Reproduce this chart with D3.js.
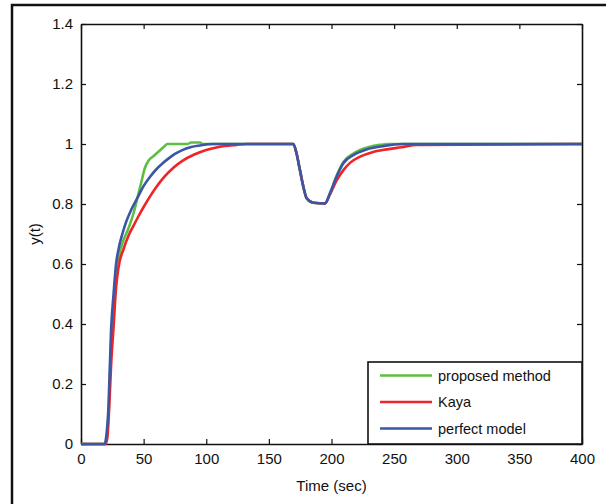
<!DOCTYPE html>
<html>
<head>
<meta charset="utf-8">
<script src="https://cdn.jsdelivr.net/npm/d3@7"></script>
<style>
body { margin: 0; background: #fff; }
text { font-family: "Liberation Sans", Arial, sans-serif; fill: #111; }
</style>
</head>
<body>
<div id="chart"></div>
<script>
var w = 606,
    h = 504;

// series (time in sec, response y(t))
var proposedT = [0, 19, 20, 22, 24, 26, 28, 30, 34, 38, 42, 45, 48, 51, 54, 58, 62, 66, 69, 85, 88, 95, 97,
    169.5, 172, 174.8, 177.5, 180.2, 185.5, 194.8, 198.8, 204, 209.5, 217.5, 222.8, 230, 238.7, 245, 400];
var proposedY = [0, 0, 0.01, 0.1, 0.33, 0.46, 0.56, 0.62, 0.68, 0.72, 0.77, 0.82, 0.87, 0.92, 0.945, 0.96, 0.975, 0.99, 1.0, 1.0, 1.005, 1.005, 1.0,
    1.0, 0.97, 0.913, 0.858, 0.819, 0.804, 0.802, 0.836, 0.893, 0.94, 0.968, 0.98, 0.99, 0.997, 1.0, 1.0];

var kayaT = [0, 19.5, 21, 22.5, 24, 26, 28, 30, 34, 38, 42, 46, 50, 54, 60, 67, 74, 81, 90, 100, 110, 124, 132,
    169.5, 172, 174.8, 177.5, 180.2, 185.5, 194.8, 198.8, 204, 209.5, 215, 222.8, 232, 244, 256, 268, 400];
var kayaY = [0, 0, 0.02, 0.12, 0.26, 0.39, 0.52, 0.59, 0.65, 0.695, 0.728, 0.76, 0.79, 0.818, 0.856, 0.893, 0.922, 0.944, 0.964, 0.98, 0.99, 0.997, 1.0,
    1.0, 0.97, 0.913, 0.858, 0.819, 0.804, 0.802, 0.832, 0.878, 0.913, 0.938, 0.958, 0.972, 0.982, 0.989, 0.997, 1.0];

var perfectT = [0, 19, 20, 22, 24, 26, 28, 30, 33, 36, 40, 45, 50, 55, 60, 65, 70, 75, 80, 88, 95, 105,
    169.5, 172, 174.8, 177.5, 180.2, 185.5, 194.8, 198.8, 204, 209.5, 217.5, 228, 241, 257, 400];
var perfectY = [0, 0, 0.02, 0.13, 0.38, 0.5, 0.6, 0.65, 0.7, 0.74, 0.78, 0.82, 0.86, 0.89, 0.915, 0.935, 0.952, 0.967, 0.978, 0.99, 0.995, 1.0,
    1.0, 0.97, 0.913, 0.858, 0.819, 0.804, 0.802, 0.836, 0.891, 0.936, 0.963, 0.982, 0.993, 1.0, 1.0];

var seriesNames = ["proposed method", "Kaya", "perfect model"];
var seriesColors = ["#5cbf42", "#ee2428", "#3a56a5"];
var xTicks = [0, 50, 100, 150, 200, 250, 300, 350, 400];
var yTicks = [0, 0.2, 0.4, 0.6, 0.8, 1, 1.2, 1.4];

// plot box (note: "top" is taken by window.top, so use other names)
var pL = 81, pR = 582, pT = 24, pB = 444;

var svg = d3.select("#chart")
    .append("svg")
    .attr("width", w)
    .attr("height", h);

// outer frame of the figure
svg.append("rect")
    .attr("x", 12).attr("y", 5)
    .attr("width", 600).attr("height", 520)
    .attr("fill", "none")
    .attr("stroke", "#111")
    .attr("stroke-width", 2.5);

var x = d3.scaleLinear().domain([0, 400]).range([pL, pR]);
var y = d3.scaleLinear().domain([0, 1.4]).range([pB, pT]);

var fmt = function(d) { return String(d); };

// axes, matlab style: ticks inside on all four sides
svg.append("g")
    .attr("transform", "translate(0," + pB + ")")
    .call(d3.axisBottom(x).tickValues(xTicks).tickFormat(fmt).tickSizeInner(-5).tickSizeOuter(0).tickPadding(9));
svg.append("g")
    .attr("transform", "translate(0," + pT + ")")
    .call(d3.axisTop(x).tickValues(xTicks).tickFormat("").tickSizeInner(-5).tickSizeOuter(0));
svg.append("g")
    .attr("transform", "translate(" + pL + ",0)")
    .call(d3.axisLeft(y).tickValues(yTicks).tickFormat(fmt).tickSizeInner(-5).tickSizeOuter(0).tickPadding(8));
svg.append("g")
    .attr("transform", "translate(" + pR + ",0)")
    .call(d3.axisRight(y).tickValues(yTicks).tickFormat("").tickSizeInner(-5).tickSizeOuter(0));

svg.selectAll(".domain").attr("stroke", "#111").attr("stroke-width", 1.6);
svg.selectAll(".tick line").attr("stroke", "#111").attr("stroke-width", 1.2);
svg.selectAll(".tick text").attr("font-size", "15px").attr("fill", "#111")
    .style("font-family", "'Liberation Sans', Arial, sans-serif");

// curves
var series = [
    { t: proposedT, v: proposedY },
    { t: kayaT, v: kayaY },
    { t: perfectT, v: perfectY }
];

var line = d3.line()
    .x(function(d) { return x(d[0]); })
    .y(function(d) { return y(d[1]); })
    .curve(d3.curveMonotoneX);

series.forEach(function(s, i) {
    var pts = s.t.map(function(t, j) { return [t, s.v[j]]; });
    svg.append("path")
        .datum(pts)
        .attr("d", line)
        .attr("fill", "none")
        .attr("stroke", seriesColors[i])
        .attr("stroke-width", 2.6)
        .attr("stroke-linejoin", "round");
});

// axis titles
svg.append("text")
    .attr("x", (pL + pR) / 2)
    .attr("y", 491)
    .attr("text-anchor", "middle")
    .attr("font-size", "15px")
    .text("Time (sec)");

svg.append("text")
    .attr("transform", "translate(40," + ((pT + pB) / 2) + ") rotate(-90)")
    .attr("text-anchor", "middle")
    .attr("font-size", "15px")
    .text("y(t)");

// legend
var lg = svg.append("g");
lg.append("rect")
    .attr("x", 368).attr("y", 362)
    .attr("width", pR - 368).attr("height", pB - 362)
    .attr("fill", "#fff")
    .attr("stroke", "#111")
    .attr("stroke-width", 1.6);

seriesNames.forEach(function(name, i) {
    var yy = 375.5 + i * 26.5;
    lg.append("line")
        .attr("x1", 380).attr("x2", 432)
        .attr("y1", yy).attr("y2", yy)
        .attr("stroke", seriesColors[i])
        .attr("stroke-width", 2.6);
    lg.append("text")
        .attr("x", 438)
        .attr("y", yy + 5)
        .attr("font-size", "14.5px")
        .text(name);
});
</script>
</body>
</html>
